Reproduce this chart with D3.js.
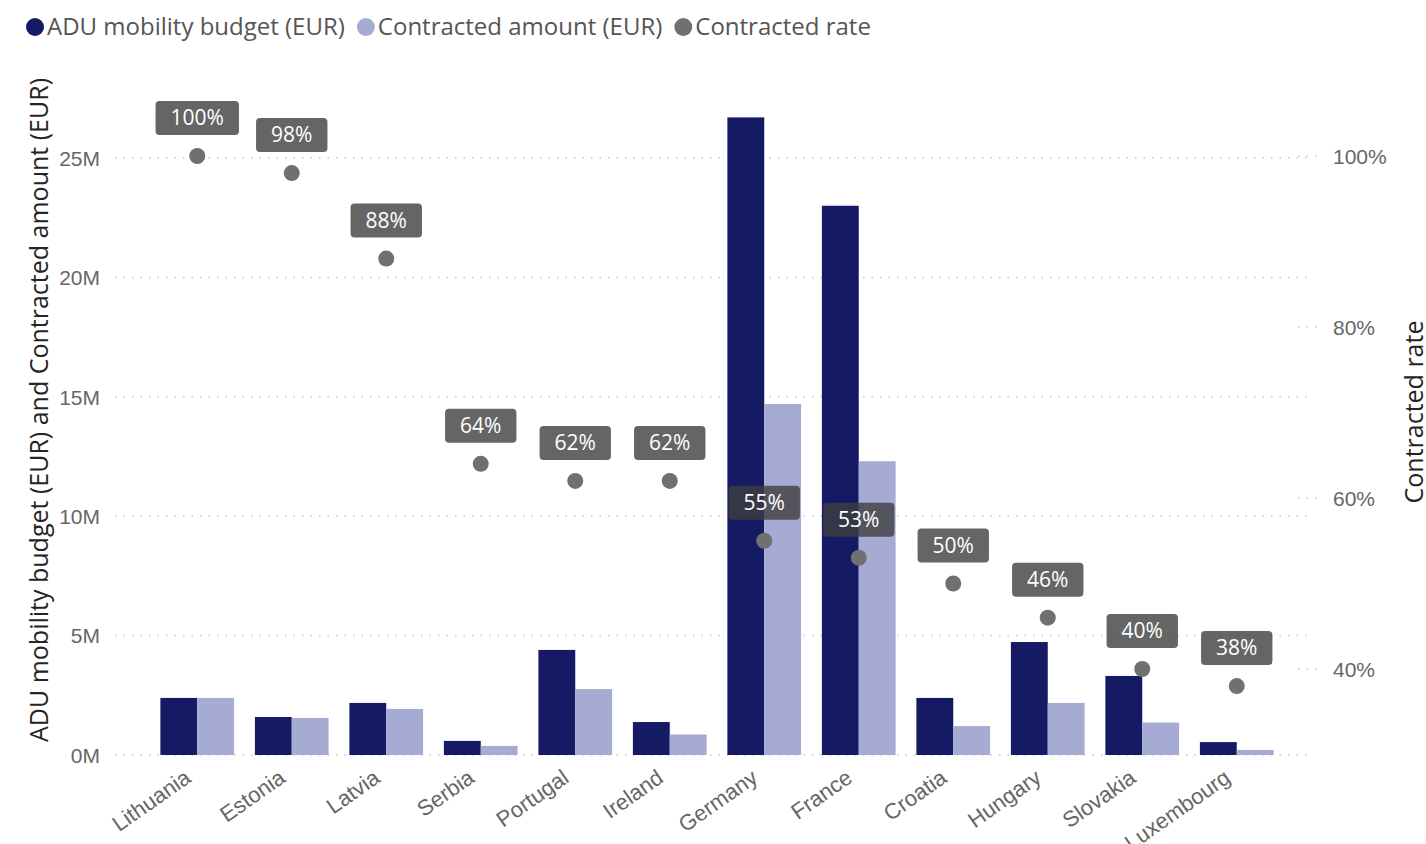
<!DOCTYPE html>
<html>
<head>
<meta charset="utf-8">
<script src="https://cdn.jsdelivr.net/npm/d3@7/dist/d3.min.js"></script>
<style>
  html, body { margin: 0; padding: 0; background: #fff; }
  svg { display: block; font-family: "Open Sans", "Noto Sans", sans-serif; }
</style>
</head>
<body>
<svg id="chart" width="1426" height="844"></svg>
<script>
// Mobility budget vs contracted amount per country, with contracted rate
const countries = ["Lithuania", "Estonia", "Latvia", "Serbia", "Portugal", "Ireland",
                   "Germany", "France", "Croatia", "Hungary", "Slovakia", "Luxembourg"];
const budget = [2.39e6, 1.59e6, 2.18e6, 0.59e6, 4.40e6, 1.38e6,
                26.7e6, 23.0e6, 2.39e6, 4.73e6, 3.31e6, 0.54e6];
const contracted = [2.39e6, 1.55e6, 1.93e6, 0.38e6, 2.76e6, 0.86e6,
                    14.7e6, 12.3e6, 1.21e6, 2.18e6, 1.36e6, 0.21e6];
const rate = [100, 98, 88, 64, 62, 62, 55, 53, 50, 46, 40, 38];
const leftTicks = [0, 5e6, 10e6, 15e6, 20e6, 25e6];
const rightTicks = [40, 60, 80, 100];
const seriesNames = ["ADU mobility budget (EUR)", "Contracted amount (EUR)", "Contracted rate"];

const colDark = "#141a64";
const colLight = "#a5abd3";
const colRate = "#707070";
const tickColor = "#666";

const svg = d3.select("#chart");

const x = d3.scaleBand().domain(countries).range([150, 1284])
  .paddingInner(0.22).paddingOuter(0.11);
const xs = d3.scaleBand().domain(["budget", "contracted"]).range([0, x.bandwidth()]);
const yL = d3.scaleLinear().domain([0, 25e6]).range([755, 158]);
const yR = d3.scaleLinear().domain([40, 100]).range([669, 156]);

const gridX0 = 115, gridX1 = 1312;

// gridlines (left axis)
svg.append("g").selectAll("line").data(leftTicks).join("line")
  .attr("x1", gridX0).attr("x2", gridX1)
  .attr("y1", d => yL(d)).attr("y2", d => yL(d))
  .attr("stroke", "#c8c8c8").attr("stroke-width", 1.5)
  .attr("stroke-dasharray", "1.5,7");

// short gridline stubs for the right axis
svg.append("g").selectAll("line").data(rightTicks).join("line")
  .attr("x1", 1298).attr("x2", 1318)
  .attr("y1", d => yR(d)).attr("y2", d => yR(d))
  .attr("stroke", "#c8c8c8").attr("stroke-width", 1.5)
  .attr("stroke-dasharray", "1.5,7");

// left axis
const axL = svg.append("g").attr("transform", `translate(${gridX0 - 12},0)`)
  .call(d3.axisLeft(yL).tickValues(leftTicks).tickSize(0).tickFormat(d => (d / 1e6) + "M"));
axL.select(".domain").remove();
axL.selectAll("text").attr("fill", tickColor).style("font-size", "21px").attr("dy", "0.35em");

// right axis
const axR = svg.append("g").attr("transform", `translate(1330,0)`)
  .call(d3.axisRight(yR).tickValues(rightTicks).tickSize(0).tickFormat(d => d + "%"));
axR.select(".domain").remove();
axR.selectAll("text").attr("fill", tickColor).style("font-size", "21px").attr("dy", "0.35em");

// bars
const groups = svg.append("g").selectAll("g").data(countries).join("g")
  .attr("transform", d => `translate(${x(d)},0)`);
groups.append("rect")
  .attr("x", xs("budget")).attr("width", xs.bandwidth())
  .attr("y", (d, i) => yL(budget[i])).attr("height", (d, i) => yL(0) - yL(budget[i]))
  .attr("fill", colDark);
groups.append("rect")
  .attr("x", xs("contracted")).attr("width", xs.bandwidth())
  .attr("y", (d, i) => yL(contracted[i])).attr("height", (d, i) => yL(0) - yL(contracted[i]))
  .attr("fill", colLight);

// x axis labels
const axB = svg.append("g").attr("transform", `translate(0,${yL(0)})`)
  .call(d3.axisBottom(x).tickSize(0));
axB.select(".domain").remove();
axB.selectAll("text")
  .attr("fill", tickColor).style("font-size", "22px")
  .attr("text-anchor", "end")
  .attr("dy", null).attr("y", 0)
  .attr("transform", "translate(-5,26) rotate(-35)");

// rate dots and labels
const cx = d => x(d) + x.bandwidth() / 2;
svg.append("g").selectAll("circle").data(countries).join("circle")
  .attr("cx", cx).attr("cy", (d, i) => yR(rate[i])).attr("r", 8)
  .attr("fill", colRate);

const lbl = svg.append("g").selectAll("g").data(countries).join("g")
  .attr("transform", (d, i) => `translate(${cx(d)},${yR(rate[i]) - 38})`);
lbl.append("text")
  .attr("text-anchor", "middle").attr("dy", "0.35em")
  .attr("fill", "#fff").style("font-size", "21px")
  .text((d, i) => rate[i] + "%");
lbl.each(function () {
  const g = d3.select(this);
  const w = g.select("text").node().getComputedTextLength() + 30;
  g.insert("rect", "text")
    .attr("x", -w / 2).attr("y", -17).attr("width", w).attr("height", 34)
    .attr("rx", 4).attr("fill", "rgba(62,62,62,0.8)");
});

// axis titles
svg.append("text")
  .attr("transform", "translate(48,410) rotate(-90)")
  .attr("text-anchor", "middle").attr("fill", "#252423").style("font-size", "25px")
  .text(seriesNames[0] + " and " + seriesNames[1]);
svg.append("text")
  .attr("transform", "translate(1423,412) rotate(-90)")
  .attr("text-anchor", "middle").attr("fill", "#252423").style("font-size", "25px")
  .text(seriesNames[2]);

// legend
const legendColors = [colDark, colLight, colRate];
const legend = svg.append("g").attr("transform", "translate(0,27)");
let lx = 26;
seriesNames.forEach((name, i) => {
  legend.append("circle").attr("cx", lx + 9).attr("cy", 0).attr("r", 9).attr("fill", legendColors[i]);
  const t = legend.append("text").attr("x", lx + 21).attr("dy", "0.35em")
    .attr("fill", "#555").style("font-size", "24px").text(name);
  lx += 21 + t.node().getComputedTextLength() + 12;
});
</script>
</body>
</html>
